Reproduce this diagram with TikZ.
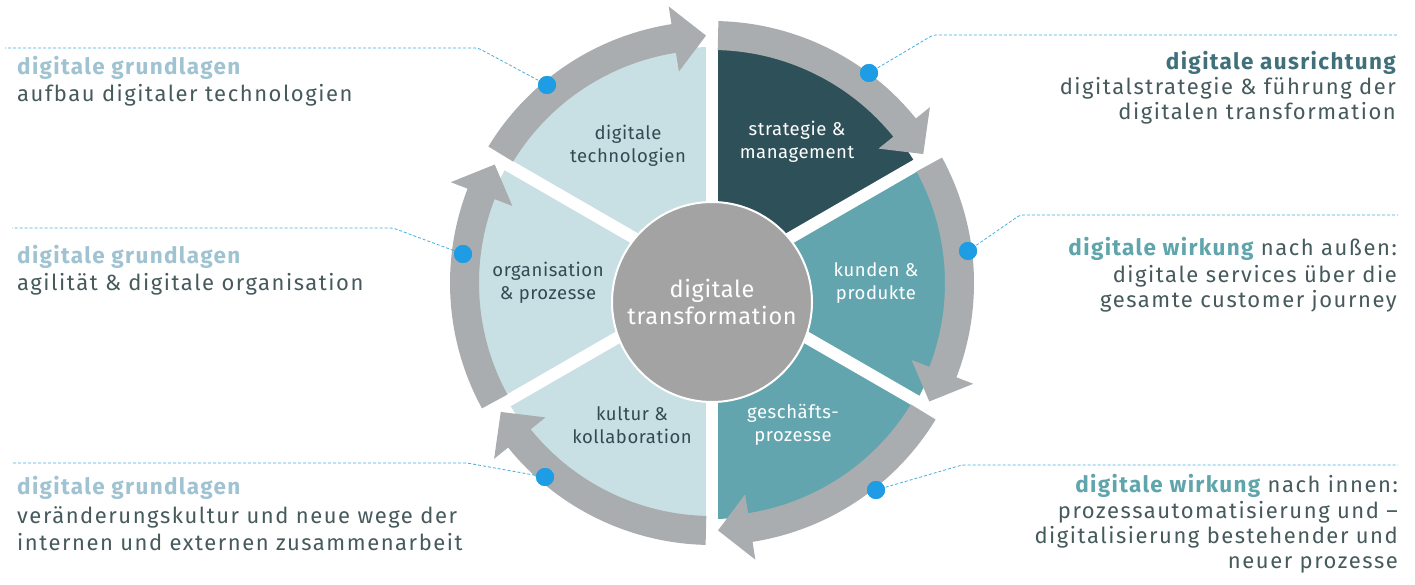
\documentclass[tikz,border=0pt]{standalone}
\usepackage{fontspec}
\setmainfont{Fira Sans}
\newfontfamily\bodyfont[LetterSpace=7]{Fira Sans}
\newfontfamily\headfont[LetterSpace=6]{Fira Sans}
\newfontfamily\secfont[LetterSpace=3]{Fira Sans}
\usetikzlibrary{calc}
\definecolor{lightc}{RGB}{200,224,228}
\definecolor{darkc}{RGB}{46,80,88}
\definecolor{tealc}{RGB}{98,165,174}
\definecolor{bandc}{RGB}{170,173,175}
\definecolor{centerc}{RGB}{163,163,163}
\definecolor{dotc}{RGB}{30,157,228}
\definecolor{dashc}{RGB}{70,175,225}
\definecolor{headlight}{RGB}{160,195,210}
\definecolor{headdark}{RGB}{64,112,122}
\definecolor{headteal}{RGB}{95,165,172}
\definecolor{bodyc}{RGB}{70,90,92}
\definecolor{sectxt}{RGB}{50,75,82}
\tikzset{
  dotnode/.style={circle, fill=dotc, inner sep=0pt, minimum size=18pt},
  leader/.style={dashc, line width=0.8pt, dash pattern=on 3pt off 2pt, rounded corners=3pt},
  bodyl/.style={inner sep=0pt, text=bodyc, font=\bodyfont\fontsize{22}{26}\selectfont},
  headl/.style={inner sep=0pt, font=\headfont\bfseries\fontsize{22.5}{26}\selectfont},
  seclabel/.style={inner sep=0pt, align=center, font=\secfont\fontsize{18.5}{23}\selectfont},
}
\newcommand\ringband[2]{%
  \pgfmathsetmacro\bs{#1-1.4}%
  \pgfmathsetmacro\bt{#2+1.4}%
  \pgfmathsetmacro\bb{#2+1.4+7.5}%
  \fill[bandc] ($(C)+(\bs:262)$) arc[start angle=\bs, end angle=\bb, radius=262]
    -- ($(C)+(\bb:280)$) -- ($(C)+(\bt:247.5)$) -- ($(C)+(\bb:214)$)
    -- ($(C)+(\bb:233)$) arc[start angle=\bb, end angle=\bs, radius=233] -- cycle;
}
\newcommand\wedgefill[3]{%
  \fill[#1] (C) -- ($(C)+(#2:236)$) arc[start angle=#2, end angle=#3, radius=236] -- cycle;
}
\begin{document}
\begin{tikzpicture}[x=1pt,y=1pt]
\useasboundingbox (0,0) rectangle (1415,-585);
\fill[white] (0,0) rectangle (1415,-585);
\coordinate (C) at (712,-283);
% sectors
\wedgefill{darkc}{90}{30}
\wedgefill{tealc}{30}{-30}
\wedgefill{tealc}{-30}{-90}
\wedgefill{lightc}{270}{210}
\wedgefill{lightc}{210}{150}
\wedgefill{lightc}{150}{90}
% gaps
\foreach \a in {90,30,-30,-90,-150,150}
  \draw[white, line width=12pt] (C) -- ($(C)+(\a:300)$);
% bands
\ringband{90}{30}
\ringband{30}{-30}
\ringband{-30}{-90}
\ringband{270}{210}
\ringband{210}{150}
\ringband{150}{90}
% center
\node[circle, fill=centerc, draw=white, line width=2pt, minimum size=200pt, inner sep=0pt,
  text=white, align=center, font=\secfont\fontsize{23.5}{27}\selectfont] (ctr) at (712,-302) {digitale\\transformation};
% sector labels
\node[seclabel, text=sectxt] (s1) at (628,-146) {digitale\\technologien};
\node[seclabel, text=white] (s2) at (797,-142) {strategie \&\\management};
\node[seclabel, text=sectxt] (s3) at (548,-283) {organisation\\\& prozesse};
\node[seclabel, text=white] (s4) at (876,-283) {kunden \&\\produkte};
\node[seclabel, text=sectxt] (s5) at (632,-425) {kultur \&\\kollaboration};
\node[seclabel, text=white] (s6) at (793,-425) {geschäfts-\\prozesse};
% dots
\node[dotnode] (d1) at (547,-85) {};
\node[dotnode] (d2) at (869,-73) {};
\node[dotnode] (d3) at (463,-254) {};
\node[dotnode] (d4) at (968,-251) {};
\node[dotnode] (d5) at (545,-477) {};
\node[dotnode] (d6) at (876,-490) {};
% leader ends
\coordinate (e1) at (5,-48);
\coordinate (e2) at (12,-228);
\coordinate (e3) at (12,-463);
\coordinate (e4) at (1398,-35);
\coordinate (e5) at (1398,-215);
\coordinate (e6) at (1398,-465);
\draw[leader] (d1.center) -- (478,-48) -- (e1);
\draw[leader] (d3.center) -- (393,-228) -- (e2);
\draw[leader] (d5.center) -- (467,-463) -- (e3);
\draw[leader] (d2.center) -- (933,-35) -- (e4);
\draw[leader] (d4.center) -- (1020,-215) -- (e5);
\draw[leader] (d6.center) -- (962,-465) -- (e6);
\fill[dotc] (d1) circle (9); \fill[dotc] (d2) circle (9); \fill[dotc] (d3) circle (9);
\fill[dotc] (d4) circle (9); \fill[dotc] (d5) circle (9); \fill[dotc] (d6) circle (9);
% left texts
\node[headl, text=headlight, anchor=base west] (l1h) at (17,-75) {digitale grundlagen};
\node[bodyl, anchor=base west] (l1b) at (17,-102) {aufbau digitaler technologien};
\node[headl, text=headlight, anchor=base west] (l2h) at (17,-263) {digitale grundlagen};
\node[bodyl, anchor=base west] (l2b) at (17,-290) {agilität \& digitale organisation};
\node[headl, text=headlight, anchor=base west] (l3h) at (17,-494) {digitale grundlagen};
\node[bodyl, anchor=base west] (l3b) at (17,-523) {veränderungskultur und neue wege der};
\node[bodyl, anchor=base west] (l3c) at (17,-550) {internen und externen zusammenarbeit};
% right texts
\node[headl, text=headdark, anchor=base east] (r1h) at (1396,-70) {digitale ausrichtung};
\node[bodyl, anchor=base east] (r1b) at (1396,-95) {digitalstrategie \& führung der};
\node[bodyl, anchor=base east] (r1c) at (1396,-120) {digitalen transformation};
\node[bodyl, anchor=base east] (r2h) at (1397,-255) {{\headfont\bfseries\fontsize{22.5}{26}\selectfont\color{headteal}digitale wirkung} nach außen:};
\node[bodyl, anchor=base east] (r2b) at (1397,-282) {digitale services über die};
\node[bodyl, anchor=base east] (r2c) at (1397,-307) {gesamte customer journey};
\node[bodyl, anchor=base east] (r3h) at (1398,-492) {{\headfont\bfseries\fontsize{22.5}{26}\selectfont\color{headteal}digitale wirkung} nach innen:};
\node[bodyl, anchor=base east] (r3b) at (1398,-518) {prozessautomatisierung und –};
\node[bodyl, anchor=base east] (r3c) at (1398,-543) {digitalisierung bestehender und};
\node[bodyl, anchor=base east] (r3d) at (1398,-568) {neuer prozesse};
\end{tikzpicture}
\end{document}
